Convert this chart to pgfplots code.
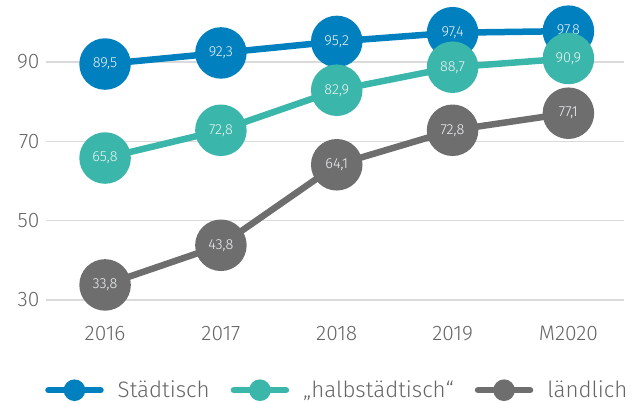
\documentclass[border=0pt]{standalone}
\usepackage{pgfplots}
\pgfplotsset{compat=1.18}
\usepackage{fontspec}
\setmainfont{Fira Sans}[UprightFont={* Light}]
\definecolor{cblue}{HTML}{0080BE}
\definecolor{cteal}{HTML}{3AB7AA}
\definecolor{cgray}{HTML}{6E6E6E}
\definecolor{ctext}{HTML}{666666}
\definecolor{cgrid}{HTML}{DADADA}
\definecolor{clab}{HTML}{EEF2F4}
\begin{document}
\begin{tikzpicture}
\begin{axis}[
  name=ax, at={(0,0)}, anchor=south west,
  scale only axis, width=578pt, height=277.6pt,
  xmin=-0.51, xmax=4.48, ymin=30, ymax=100,
  clip=false,
  axis line style={draw=none},
  major tick length=0pt,
  ymajorgrids, grid style={cgrid, line width=1.5pt},
  xtick={0,1,2,3,4}, xticklabels={2016,2017,2018,2019,M2020},
  ytick={30,50,70,90},
  /pgf/number format/assume math mode=true,
  tick label style={font=\fontsize{21}{23}\selectfont, text=ctext},
  xticklabel style={yshift=-23pt},
  yticklabel style={xshift=-3pt},
  legend style={at={(axis description cs:0.504,-0.325)}, anchor=center, draw=none,
    font=\fontsize{22.3}{24}\selectfont, text=ctext,
    /tikz/every odd column/.append style={column sep=12pt},
    /tikz/every even column/.append style={column sep=19pt}},
  legend columns=3,
  every axis plot/.append style={line width=6.5pt, mark=*, mark size=22.5pt, mark options={solid},
    nodes near coords, point meta=explicit symbolic,
    every node near coord/.style={anchor=center, text=clab, font=\fontsize{14.5}{15}\selectfont}},
]
\addplot[cblue, legend image code/.code={\draw[cblue, line width=6.5pt, line cap=round] (0pt,0pt)--(52pt,0pt); \fill[cblue] (26pt,0pt) circle (7.5pt);}] table[meta=lab] {
x y lab
0 89.5 89,5
1 92.3 92,3
2 95.2 95,2
3 97.4 97,4
4 97.8 97,8
};
\addlegendentry{Städtisch}
\addplot[cteal, legend image code/.code={\draw[cteal, line width=6.5pt, line cap=round] (0pt,0pt)--(52pt,0pt); \fill[cteal] (26pt,0pt) circle (7.5pt);}] table[meta=lab] {
x y lab
0 65.8 65,8
1 72.8 72,8
2 82.9 82,9
3 88.7 88,7
4 90.9 90,9
};
\addlegendentry{„halbstädtisch“}
\addplot[cgray, legend image code/.code={\draw[cgray, line width=6.5pt, line cap=round] (0pt,0pt)--(52pt,0pt); \fill[cgray] (26pt,0pt) circle (7.5pt);}] table[meta=lab] {
x y lab
0 33.8 33,8
1 43.8 43,8
2 64.1 64,1
3 72.8 72,8
4 77.1 77,1
};
\addlegendentry{ländlich}
\end{axis}
\pgfresetboundingbox
\path[use as bounding box] (-46pt,-103pt) rectangle (596pt,300pt);
\end{tikzpicture}
\end{document}
